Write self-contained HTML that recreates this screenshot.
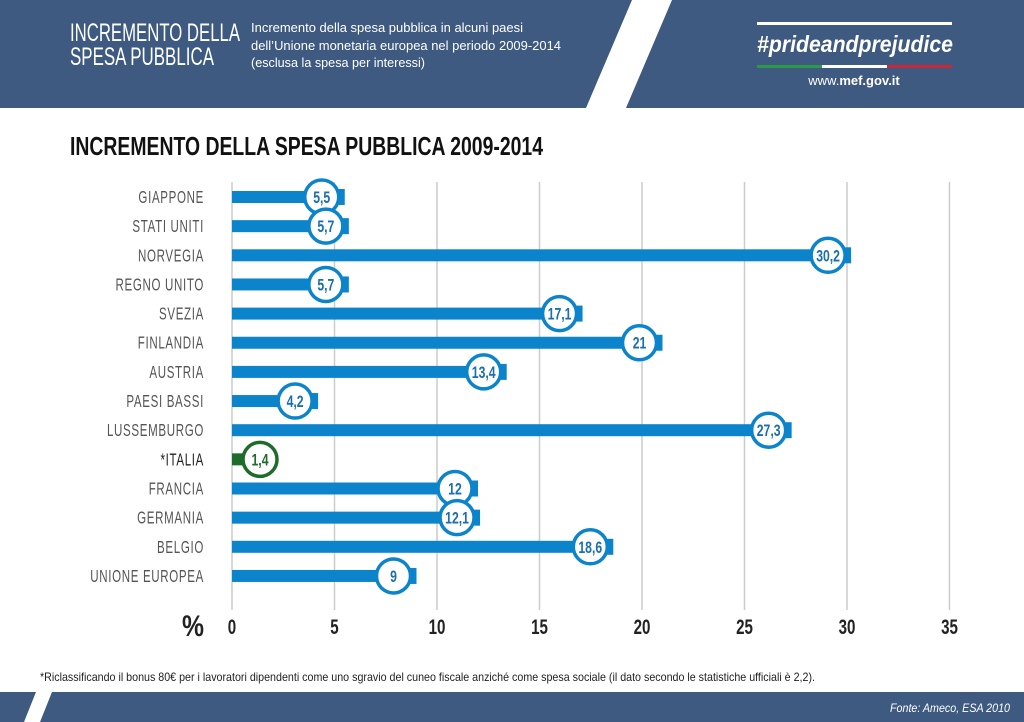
<!DOCTYPE html>
<html><head><meta charset="utf-8"><style>
html,body{margin:0;padding:0;background:#fff;}
svg{display:block;}
text{font-family:"Liberation Sans",sans-serif;}
</style></head><body>
<svg width="1024" height="722" viewBox="0 0 1024 722" xmlns="http://www.w3.org/2000/svg">
<g>
<rect x="0" y="0" width="1024" height="108" fill="#3e5a80"/>
<polygon points="632,0 672,0 626,108 586,108" fill="#fff"/>
<text x="70" y="41" font-size="25" fill="#fff" textLength="170" lengthAdjust="spacingAndGlyphs">INCREMENTO DELLA</text>
<text x="70" y="65" font-size="25" fill="#fff" textLength="144" lengthAdjust="spacingAndGlyphs">SPESA PUBBLICA</text>
<text x="251" y="32" font-size="13" fill="#fff" textLength="272" lengthAdjust="spacingAndGlyphs">Incremento della spesa pubblica in alcuni paesi</text>
<text x="251" y="50" font-size="13" fill="#fff" textLength="310" lengthAdjust="spacingAndGlyphs">dell’Unione monetaria europea nel periodo 2009-2014</text>
<text x="251" y="67" font-size="13" fill="#fff" textLength="174" lengthAdjust="spacingAndGlyphs">(esclusa la spesa per interessi)</text>
<rect x="757" y="22" width="195" height="3" fill="#fff"/>
<text x="757" y="52" font-size="23" font-style="italic" font-weight="bold" fill="#fff" textLength="196" lengthAdjust="spacingAndGlyphs">#prideandprejudice</text>
<rect x="757" y="65" width="65" height="3" fill="#2a9a48"/>
<rect x="822" y="65" width="65" height="3" fill="#fff"/>
<rect x="887" y="65" width="65" height="3" fill="#c8283a"/>
<text x="854" y="85" font-size="13" fill="#fff" text-anchor="middle">www.<tspan font-weight="bold">mef.gov.it</tspan></text>
</g>
<text x="70" y="155" font-size="26" font-weight="bold" fill="#111" textLength="473" lengthAdjust="spacingAndGlyphs">INCREMENTO DELLA SPESA PUBBLICA 2009-2014</text>
<g id="grid"></g>
<g id="bars"></g>
<g id="xaxis"></g>
<text x="182" y="636" font-size="30" font-weight="bold" fill="#222" textLength="22" lengthAdjust="spacingAndGlyphs">%</text>
<text x="40" y="681" font-size="12" fill="#222" textLength="775" lengthAdjust="spacingAndGlyphs">*Riclassificando il bonus 80€ per i lavoratori dipendenti come uno sgravio del cuneo fiscale anziché come spesa sociale (il dato secondo le statistiche ufficiali è 2,2).</text>
<g>
<rect x="0" y="692" width="1024" height="30" fill="#3e5a80"/>
<polygon points="36,692 52,692 40,722 24,722" fill="#fff"/>
<text x="1010" y="712" font-size="12" font-style="italic" fill="#fff" text-anchor="end" textLength="120" lengthAdjust="spacingAndGlyphs">Fonte: Ameco, ESA 2010</text>
</g>
</svg>
<script>
const categories=["GIAPPONE","STATI UNITI","NORVEGIA","REGNO UNITO","SVEZIA","FINLANDIA","AUSTRIA","PAESI BASSI","LUSSEMBURGO","*ITALIA","FRANCIA","GERMANIA","BELGIO","UNIONE EUROPEA"];
const values=[5.5,5.7,30.2,5.7,17.1,21,13.4,4.2,27.3,1.4,12,12.1,18.6,9];
const valueLabels=["5,5","5,7","30,2","5,7","17,1","21","13,4","4,2","27,3","1,4","12","12,1","18,6","9"];
const ticks=[0,5,10,15,20,25,30,35];
const NS="http://www.w3.org/2000/svg";
const x=v=>232+v*20.5;
const y=i=>197+i*29.15;
function mk(tag,attrs,parent){const e=document.createElementNS(NS,tag);for(const k in attrs)e.setAttribute(k,attrs[k]);parent.appendChild(e);return e;}
const grid=document.getElementById('grid'),bars=document.getElementById('bars'),xa=document.getElementById('xaxis');
ticks.forEach(t=>{
 const l=mk('line',{x1:x(t),x2:x(t),y1:182,y2:610,stroke:'#ccc','stroke-width':1.5},grid);
 
 
 const tx=mk('text',{x:x(t),y:634,'font-size':21,'font-weight':'bold',fill:'#222','text-anchor':'middle','transform':`translate(${x(t)} 0) scale(0.72 1) translate(${-x(t)} 0)`},xa);
 
 
 tx.textContent=t;
});
categories.forEach((c,i)=>{
 const it=c==="*ITALIA";
 const col=it?'#1e6b2a':'#0b84cc', tcol=it?'#1e6b2a':'#1b6fae';
 const lab=mk('text',{x:204,y:y(i)+6,'font-size':17.5,fill:it?'#222':'#555','text-anchor':'end','letter-spacing':'1','transform':`translate(204 0) scale(0.66 1) translate(-204 0)`},bars);
 
 
 lab.textContent=c;
 const e=x(values[i]);
 const b=mk('rect',{x:232,y:y(i)-6,width:e-232-5,height:12,fill:col},bars);
 
 
 const cap=mk('rect',{x:e-6,y:y(i)-8,width:6,height:16,fill:col},bars);
 
 
 const cx=Math.max(e-23,260);
 const ci=mk('circle',{cx:cx,cy:y(i),r:17,fill:'#fff',stroke:col,'stroke-width':3.5},bars);
 
 
 const vt=mk('text',{x:cx,y:y(i)+6,'font-size':17,'font-weight':'bold',fill:tcol,'text-anchor':'middle','transform':`translate(${cx} 0) scale(0.72 1) translate(${-cx} 0)`},bars);
 
 
 vt.textContent=valueLabels[i];
});
</script>
</body></html>
